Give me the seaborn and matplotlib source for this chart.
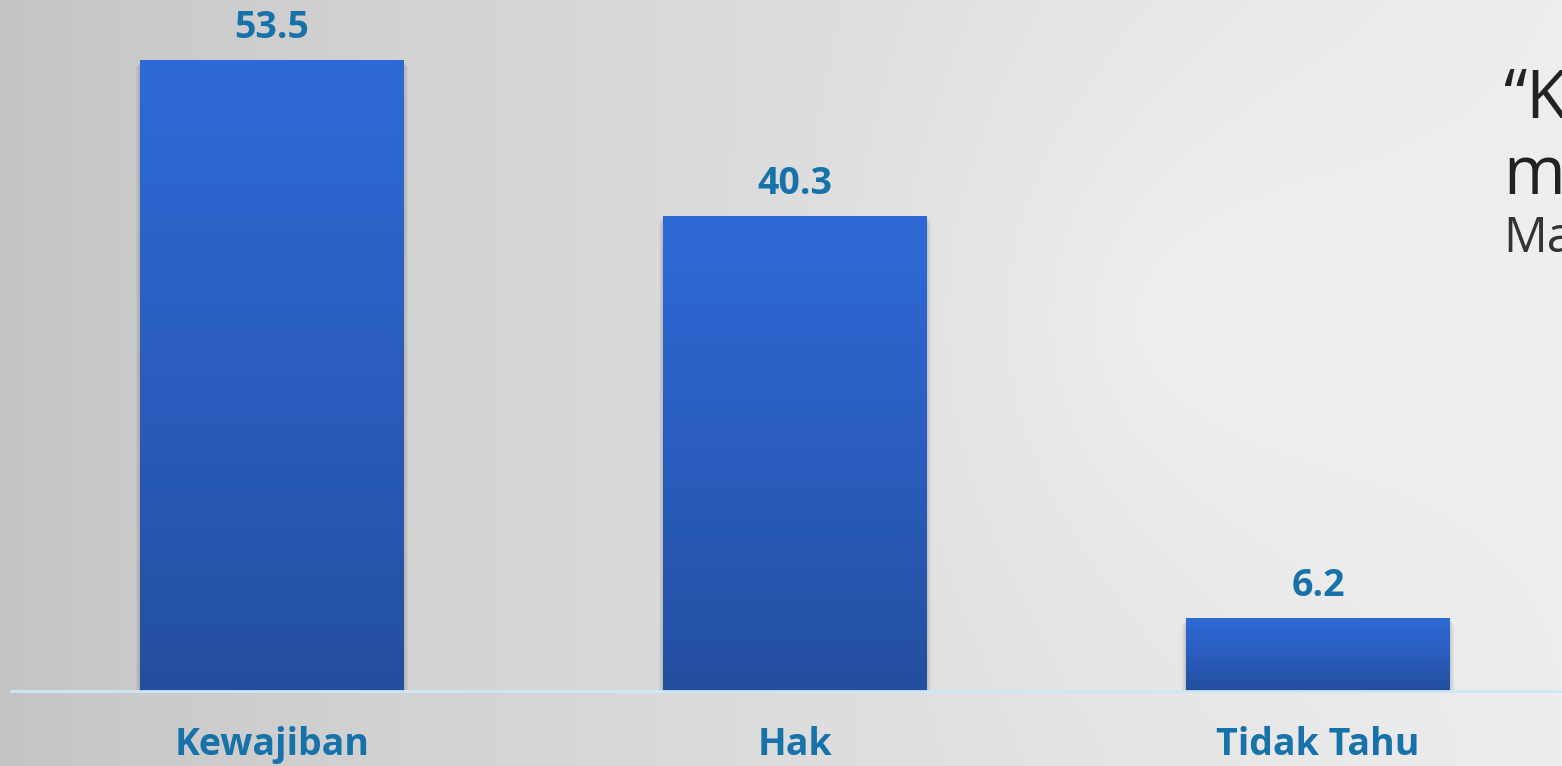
import numpy as np
import pandas as pd
import matplotlib.pyplot as plt
import seaborn as sns
from matplotlib.colors import LinearSegmentedColormap

# data
kategori = ["Kewajiban", "Hak", "Tidak Tahu"]
persen = [53.5, 40.3, 6.2]
label_nilai = ["53.5", "40.3", "6.2"]

df = pd.DataFrame({"kategori": kategori, "persen": persen})

sns.set_theme(style="white")
plt.rcParams["font.family"] = ["Open Sans", "DejaVu Sans"]

W, H, DPI = 1562, 766, 100
fig = plt.figure(figsize=(W / DPI, H / DPI), dpi=DPI)

# background: grey to light, with a soft radial highlight on the right
bg_ax = fig.add_axes([0, 0, 1, 1], zorder=0)
xx, yy = np.meshgrid(np.arange(W), np.arange(H))
lin = 0.765 + 0.165 * (xx / W) ** 0.75
dist = np.sqrt((xx - 1180) ** 2 + (yy - 320) ** 2)
glow = 0.04 * np.clip(1 - dist / 520, 0, 1) ** 1.5
bg = np.clip(lin + glow, 0, 1)
bg_rgb = np.dstack([bg, bg, bg])
bg_ax.imshow(bg_rgb, aspect="auto", extent=[0, W, H, 0], interpolation="nearest")
bg_ax.axis("off")

# main axes: baseline at y=691 px, bars spaced 523 px
left_px, base_px = 10.5, 691
ax = fig.add_axes([left_px / W, (H - base_px) / H, (W - left_px) / W, base_px / H], zorder=1)
ax.patch.set_alpha(0)

sns.barplot(data=df, x="kategori", y="persen", color="#2C66CF", width=0.503,
            saturation=1, linewidth=0, edgecolor="none", ax=ax, zorder=2)

xlim = (-0.5, -0.5 + (W - left_px) / 523)
ylim = (0, base_px / 11.79)

# gradient fill on each bar, with a soft shadow behind
grad = LinearSegmentedColormap.from_list("barra", ["#234F9E", "#2A5DBE", "#2E6AD6"])
gimg = np.linspace(0, 1, 256).reshape(-1, 1)
batang = list(ax.patches)
for barra in batang:
    x0, y0 = barra.get_x(), barra.get_y()
    w, h = barra.get_width(), barra.get_height()
    for k in range(1, 5):
        ax.bar(x0 + w / 2, h + 0.1 * k, width=w + 0.004 * k, bottom=-0.25 * k,
               color="#000000", alpha=0.035, linewidth=0, zorder=1.5)
    im = ax.imshow(gimg, cmap=grad, origin="lower", aspect="auto",
                   extent=[x0, x0 + w, y0, y0 + h], zorder=3)
    im.set_clip_path(barra)
ax.set_xlim(*xlim)
ax.set_ylim(*ylim)

# value labels
for barra, txt in zip(batang, label_nilai):
    ax.annotate(txt, (barra.get_x() + barra.get_width() / 2, barra.get_height()),
                xytext=(0, 9.5), textcoords="offset points", ha="center", va="bottom",
                fontsize=27, fontweight="bold", color="#1672A8", zorder=5)

# axis look
sns.despine(ax=ax, left=True, right=True, top=True)
ax.spines["bottom"].set_color("#CDE7F7")
ax.spines["bottom"].set_linewidth(2)
ax.spines["bottom"].set_zorder(4)
ax.set_yticks([])
ax.set_xlabel("")
ax.set_ylabel("")
ax.tick_params(axis="x", length=0, pad=25)
for t in ax.get_xticklabels():
    t.set_fontsize(27)
    t.set_fontweight("bold")
    t.set_color("#1672A8")

# cut-off text on the right
fig.text(1503 / W, 1 - 66 / H, "\u201cK", fontsize=48, color="#222222", va="top", ha="left")
fig.text(1503 / W, 1 - 142 / H, "m", fontsize=48, color="#222222", va="top", ha="left")
fig.text(1503 / W, 1 - 214 / H, "Ma", fontsize=35, color="#333333", va="top", ha="left")

fig.savefig("out.png", dpi=DPI)
